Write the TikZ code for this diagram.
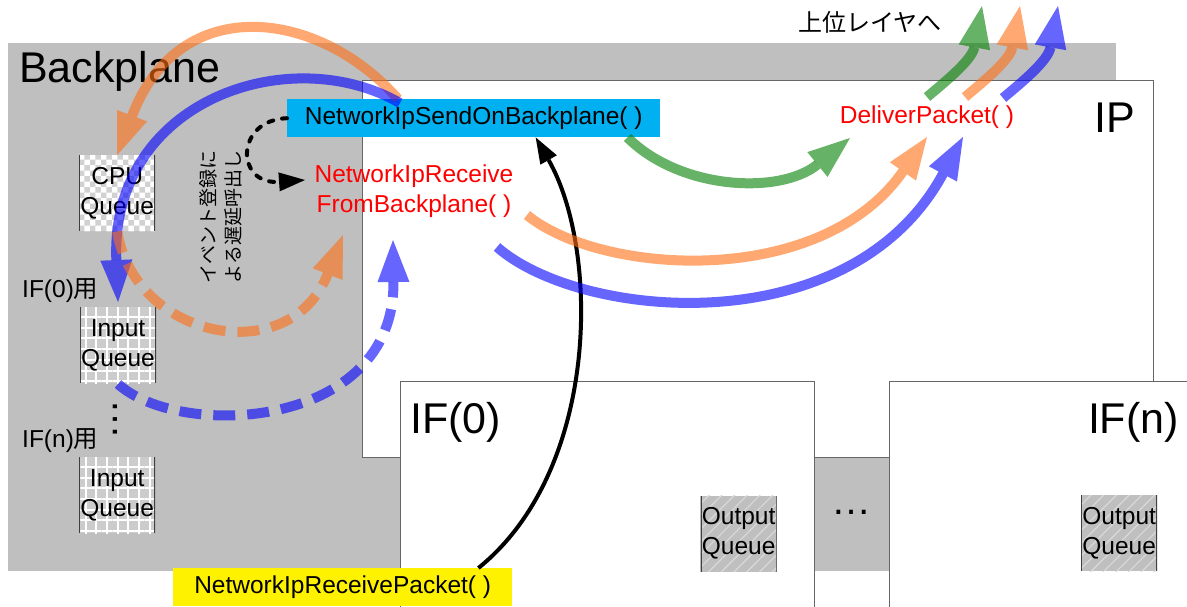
\documentclass[tikz,border=0pt]{standalone}
\usepackage{fontspec}
\setmainfont{Liberation Sans}
\newfontfamily\jpfont{Noto Sans CJK JP}
\usetikzlibrary{arrows.meta,patterns,patterns.meta}

\definecolor{bpgray}{RGB}{191,191,191}
\definecolor{sendcyan}{RGB}{0,176,240}
\definecolor{flworange}{RGB}{255,110,20}
\definecolor{flwblue}{RGB}{0,0,255}
\definecolor{flwgreen}{RGB}{0,128,0}

\begin{document}
\begin{tikzpicture}[x=1pt,y=-1pt,
  every node/.style={font=\fontsize{24.5}{30}\selectfont},
  big label/.style={font=\fontsize{43}{48}\selectfont,inner sep=0pt},
  layer box/.style={draw=black!60,line width=1pt,fill=white,anchor=north west,inner sep=0pt},
  queue box/.style={anchor=north west,minimum width=76pt,minimum height=76pt,inner sep=0pt,align=center,
    path picture={\draw[black!75,line width=2pt]
      (path picture bounding box.north west) -- (path picture bounding box.south west)
      (path picture bounding box.north east) -- (path picture bounding box.south east);}},
  cpu queue/.style={queue box,preaction={fill=white},pattern=checkerboard,pattern color=black!18},
  input queue/.style={queue box,preaction={fill=black!20},pattern={Hatch[angle=0,distance=10.7pt,line width=2pt]},pattern color=white},
  output queue/.style={queue box,preaction={fill=bpgray},pattern={Lines[angle=45,distance=9pt,line width=1.2pt]},pattern color=white!85!black},
  func label/.style={text=red,align=center,inner sep=1pt},
  flow/.style={line width=10pt,opacity=0.6,-{Triangle[length=42pt,width=32pt,line width=0pt]}},
  flow dashed/.style={flow,dash pattern=on 22pt off 12pt},
  call/.style={line width=4pt,-{Triangle[length=26pt,width=19pt,line width=0pt]}}]
  \path[use as bounding box,fill=white] (0,0) rectangle (1187,606);

  % layers
  \node[fill=bpgray,anchor=north west,minimum width=1108pt,minimum height=528pt,inner sep=0pt] (backplane) at (8,43) {};
  \node[big label,anchor=base west] (bplabel) at (19,82) {Backplane};
  \node[layer box,minimum width=791pt,minimum height=377pt] (ip) at (362,80) {};
  \node[layer box,minimum width=414pt,minimum height=240pt] (ifzero) at (400,381) {};
  \node[layer box,minimum width=320pt,minimum height=240pt] (ifn) at (889,381) {};
  \node[big label,anchor=base west] (iplabel) at (1094,132) {IP};
  \node[big label,anchor=base west] (ifzerolabel) at (410,433) {IF(0)};
  \node[big label,anchor=base east] (ifnlabel) at (1179,433) {IF(n)};
  \node[inner sep=0pt,font=\fontsize{40}{40}\selectfont] (hdots) at (851,512) {…};

  % queues
  \node[cpu queue] (cpuq) at (79,155) {CPU\\Queue};
  \node[anchor=base west,inner sep=0pt] (usezero) at (22,297) {IF(0)\jpfont 用};
  \node[input queue] (inqzero) at (79,306) {Input\\Queue};
  \node[rotate=90,inner sep=0pt,font=\fontsize{40}{40}\selectfont] (vdots) at (115,419) {…};
  \node[anchor=base west,inner sep=0pt] (usen) at (22,447) {IF(n)\jpfont 用};
  \node[input queue] (inqn) at (79,457) {Input\\Queue};
  \node[output queue] (outqzero) at (700,495) {Output\\Queue};
  \node[output queue] (outqn) at (1081,495) {Output\\Queue};

  % functions
  \node[fill=sendcyan,anchor=north west,minimum width=373pt,minimum height=38pt,inner sep=0pt] (send) at (287,99) {NetworkIpSendOnBackplane( )};
  \node[fill=yellow,anchor=north west,minimum width=339pt,minimum height=38pt,inner sep=0pt] (rxpkt) at (173,568) {NetworkIpReceivePacket( )};
  \node[func label] (recv) at (414,191) {NetworkIpReceive\\FromBackplane( )};
  \node[func label] (deliver) at (927,117) {DeliverPacket( )};
  \node[font=\jpfont\fontsize{24}{30}\selectfont] (upper) at (870,22) {上位レイヤへ};
  \node[rotate=90,align=center,inner sep=0pt,font=\jpfont\fontsize{19}{25}\selectfont] (evnote) at (221,217) {イベント登録に\\よる遅延呼出し};

  % free ends
  \coordinate (evtip) at (305,180);
  \coordinate (cpuin) at (343,235);
  \coordinate (inzeroin) at (393,240);
  \coordinate (recvout1) at (527,215);
  \coordinate (recvout2) at (497,247);
  \coordinate (dlvin1) at (850,138);
  \coordinate (dlvin2) at (927,137);
  \coordinate (dlvin3) at (963,137);
  \coordinate (dlvout1) at (927,97);
  \coordinate (dlvout2) at (965,97);
  \coordinate (dlvout3) at (1003,98);
  \coordinate (up1) at (982,6);
  \coordinate (up2) at (1020,6);
  \coordinate (up3) at (1058,6);

  % calls
  \draw[call] ([xshift=-34pt]rxpkt.north east) .. controls (600,470) and (600,250) .. ([xshift=62pt]send.south);
  \draw[call,dash pattern=on 5pt off 9pt,line cap=round] (send.west) .. controls (235,120) and (235,185) .. (evtip);

  % packet flows
  \draw[flow,flworange] ([xshift=111pt]send.north west) .. controls (320,10) and (180,-10) .. (cpuq.north);
  \draw[flow,flwblue] ([xshift=113pt,yshift=-4pt]send.north west) .. controls (290,40) and (110,100) .. ([yshift=4pt]inqzero.north);
  \draw[flow dashed,flworange] (cpuq.south) .. controls (135,340) and (290,370) .. (cpuin);
  \draw[flow dashed,flwblue] (inqzero.south) .. controls (180,440) and (395,430) .. (inzeroin);
  \draw[flow,flwgreen] ([xshift=-33pt]send.south east) .. controls (680,190) and (780,195) .. (dlvin1);
  \draw[flow,flworange] (recvout1) .. controls (600,275) and (820,290) .. (dlvin2);
  \draw[flow,flwblue] (recvout2) .. controls (580,320) and (850,345) .. (dlvin3);
  \draw[flow,flwgreen] (dlvout1) .. controls (945,82) and (972,60) .. (up1);
  \draw[flow,flworange] (dlvout2) .. controls (983,82) and (1010,60) .. (up2);
  \draw[flow,flwblue] (dlvout3) .. controls (1021,83) and (1048,61) .. (up3);
\end{tikzpicture}
\end{document}
